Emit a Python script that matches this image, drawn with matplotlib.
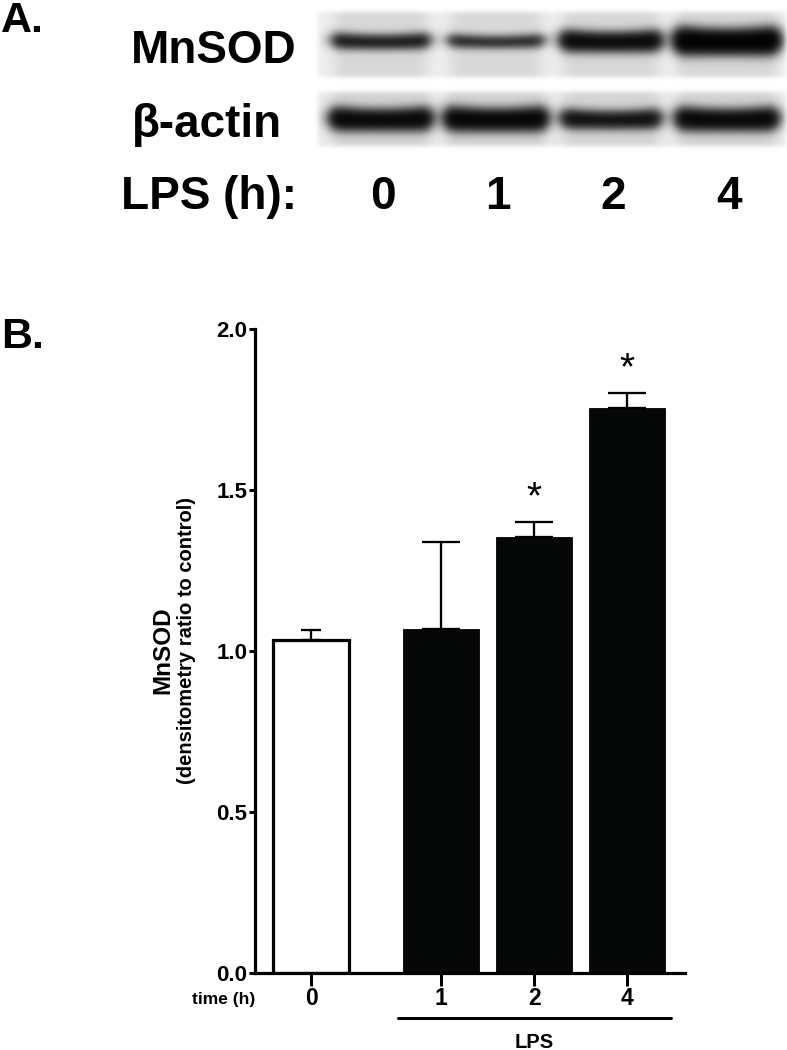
import numpy as np
import matplotlib
matplotlib.use('Agg')
import matplotlib.pyplot as plt

# ---------------- data ----------------
time_labels = ['0', '1', '2', '4']
mnsod_ratio = [1.034, 1.068, 1.354, 1.755]
mnsod_sem = [0.031, 0.270, 0.046, 0.045]
significant = [False, False, True, True]
lps_treated = [False, True, True, True]
y_ticks = [0.0, 0.5, 1.0, 1.5, 2.0]
y_tick_labels = ['0.0', '0.5', '1.0', '1.5', '2.0']
# western blot band signal (relative), per lane
mnsod_band_signal = [1.0, 0.8, 1.5, 2.1]
actin_band_signal = [1.6, 1.7, 1.25, 1.6]
blot_rows = ['MnSOD', 'β-actin']

plt.rcParams['font.family'] = ['Liberation Sans', 'DejaVu Sans']
W, H = 787, 1050
fig = plt.figure(figsize=(W / 100, H / 100), dpi=100)
PX = 72 / 100  # points per pixel


def rect(l, t, r, b):
    return [l / W, 1 - b / H, (r - l) / W, (b - t) / H]


# ---------------- panel A (blot) ----------------
bg = fig.add_axes([0, 0, 1, 1])
bg.axis('off')

lane_cx = [381, 496, 611, 727]


def blur(a, s):
    n = int(3 * s)
    k = np.arange(-n, n + 1)
    g = np.exp(-0.5 * (k / s) ** 2)
    g /= g.sum()
    a = np.pad(a, n, mode='edge')
    a = np.apply_along_axis(lambda r: np.convolve(r, g, mode='valid'), 1, a)
    a = np.apply_along_axis(lambda r: np.convolve(r, g, mode='valid'), 0, a)
    return a


def draw_blot(signals, top, bottom, yc, base_gray, sig0):
    left, right = 318, 786
    pad = 6
    xs = np.arange(left - pad, right + pad, 0.5) + 0.25
    ys = np.arange(top - pad, bottom + pad, 0.5) + 0.25
    X, Y = np.meshgrid(xs, ys)
    dens = np.zeros_like(X)
    inside = ((X >= left) & (X <= right) & (Y >= top) & (Y <= bottom)).astype(float)
    for s, c in zip(signals, lane_cx):
        hw = 43 + 3 * s
        gx = 1 / (1 + np.exp(-(X - (c - hw)) / 3.5)) / (1 + np.exp((X - (c + hw)) / 3.5))
        u = np.clip((X - c) / hw, -1.2, 1.2)
        gxb = gx * (1 + 0.2 * u ** 4)
        sig = sig0 * s ** 0.6 * (1 + 0.1 * u ** 2)
        gy = np.exp(-0.5 * ((Y - yc + 1.5 * u ** 2) / sig) ** 2)
        dens += s * gxb * gy
        dens += 0.05 * gx  # faint lane smear
    img = base_gray * np.exp(-2.0 * dens)
    img = img * inside + 1.0 * (1 - inside)
    img = blur(img, 4.5)
    img = np.clip(img, 0, 1)
    bg.imshow(img, cmap='gray', vmin=0, vmax=1,
              extent=(left - pad, right + pad, bottom + pad, top - pad),
              interpolation='bilinear', aspect='auto', zorder=0)


draw_blot(mnsod_band_signal, 12, 77, 42, 0.935, 4.5)
draw_blot(actin_band_signal, 92, 146, 120, 0.92, 4.7)
bg.set_xlim(0, W)
bg.set_ylim(H, 0)

bold = dict(fontweight='bold', color='black')
bg.text(1, 32, 'A.', fontsize=31, ha='left', va='baseline', **bold)
bg.text(1, 348, 'B.', fontsize=31, ha='left', va='baseline', **bold)
bg.text(131, 63, blot_rows[0], fontsize=33, ha='left', va='baseline', **bold)
bg.text(132, 137, blot_rows[1], fontsize=33, ha='left', va='baseline', **bold)
bg.text(121, 209, 'LPS (h):', fontsize=33, ha='left', va='baseline', **bold)
for lab, c in zip(time_labels, lane_cx):
    bg.text(c + 2, 209, lab, fontsize=33, ha='center', va='baseline', **bold)

# ---------------- panel B (bar chart) ----------------
ax = fig.add_axes(rect(255, 329, 685, 973))
pos = np.arange(len(time_labels)) + np.where(lps_treated, 0.4, 0.0)
faces = ['white' if not t else '#060808' for t in lps_treated]
edge_lw = [3.2 * PX if not t else 0.6 for t in lps_treated]
ax.bar(pos, mnsod_ratio, width=0.82, color=faces, edgecolor='black',
       linewidth=edge_lw, zorder=2)
caps = [10 * PX if not t else 19 * PX for t in lps_treated]
for p, m, e, cs in zip(pos, mnsod_ratio, mnsod_sem, caps):
    ax.errorbar([p], [m], yerr=[[0], [e]], fmt='none', ecolor='black',
                elinewidth=2.3 * PX, capsize=cs, capthick=2.3 * PX, zorder=3)
for p, m, e, s in zip(pos, mnsod_ratio, mnsod_sem, significant):
    if s:
        ax.text(p, m + e + 0.075, '*', fontsize=28, ha='center', va='center',
                color='black', zorder=4)

ax.set_xlim(-0.602, 4.02)
ax.set_ylim(0, 2.0)
for sp in ['top', 'right']:
    ax.spines[sp].set_visible(False)
for sp in ['left', 'bottom']:
    ax.spines[sp].set_linewidth(3.2 * PX)
    ax.spines[sp].set_capstyle('projecting')
ax.set_yticks(y_ticks)
ax.set_yticklabels(y_tick_labels)
ax.set_xticks(pos)
ax.set_xticklabels(time_labels)
ax.tick_params(axis='y', direction='out', length=6 * PX, width=3 * PX, pad=1,
               labelsize=16)
ax.tick_params(axis='x', direction='out', length=13 * PX, width=3 * PX, pad=1,
               labelsize=16.5)
for t in ax.get_xticklabels() + ax.get_yticklabels():
    t.set_fontweight('bold')

bg.text(255, 1004, 'time (h)', fontsize=12.5, ha='right', va='baseline', **bold)
bg.plot([398, 671], [1018, 1018], color='black', lw=3 * PX, solid_capstyle='round')
bg.text(534, 1048, 'LPS', fontsize=14.5, ha='center', va='baseline', **bold)

bg.text(163, 650, 'MnSOD', fontsize=17.5, rotation=90, ha='center', va='center', **bold)
bg.text(186, 640, '(densitometry ratio to control)', fontsize=14.5, rotation=90,
        ha='center', va='center', **bold)

bg.set_zorder(0)
ax.set_zorder(1)
ax.patch.set_alpha(0)
fig.savefig('out.png', dpi=100)
